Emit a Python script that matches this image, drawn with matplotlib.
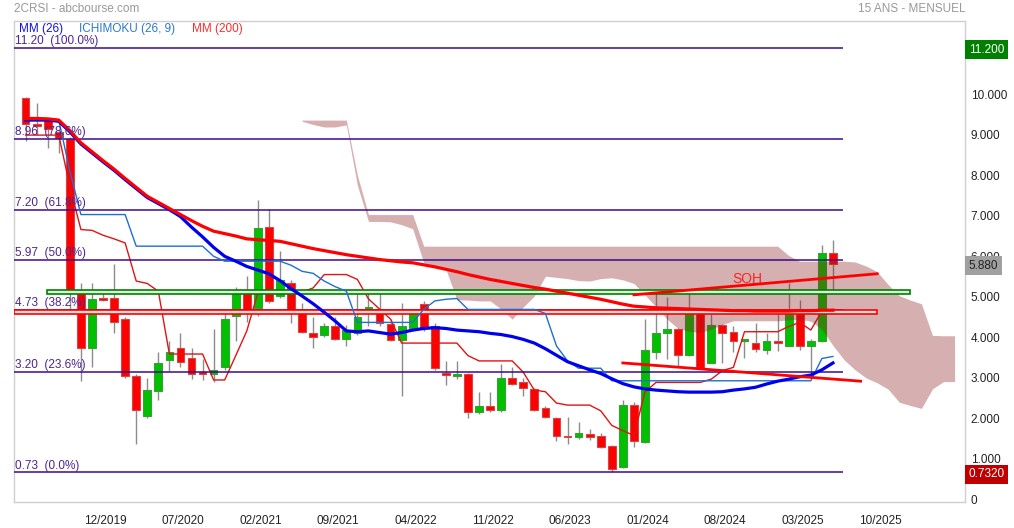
import numpy as np
import matplotlib.pyplot as plt
from matplotlib.patches import Rectangle
from matplotlib.transforms import ScaledTranslation

plt.rcParams['font.family'] = ['Liberation Sans', 'DejaVu Sans']

# monthly candles (index 0 = first month shown)
opens = [9.96, 9.32, 9.44, 9.13, 8.96, 5.16, 3.81, 5.04, 5.04, 4.52,
         3.10, 2.12, 2.75, 3.51, 3.79, 3.54, 3.18, 3.16, 3.32, 4.59,
         5.22, 4.79, 6.78, 5.08, 5.41, 4.69, 4.16, 4.11, 4.33, 4.03,
         4.16, 4.70, 4.75, 4.40, 4.00, 4.30, 4.89, 4.34, 3.18, 3.10,
         3.15, 2.21, 2.36, 2.28, 3.07, 2.95, 2.79, 2.31, 2.07, 1.64,
         1.60, 1.68, 1.63, 1.38, 0.86, 2.39, 1.49, 3.71, 4.18, 4.26,
         3.63, 4.71, 3.44, 4.37, 4.20, 3.96, 3.91, 3.75, 3.96, 3.85,
         4.69, 3.85, 3.98, 6.15]
highs = [9.98, 9.83, 9.46, 9.16, 9.01, 5.39, 5.39, 5.16, 5.86, 4.56,
         3.16, 3.06, 3.70, 3.97, 4.16, 3.79, 3.52, 4.26, 4.65, 5.31,
         5.57, 7.44, 7.23, 6.19, 5.48, 4.90, 4.57, 4.41, 4.56, 4.36,
         5.19, 5.17, 5.19, 4.51, 4.90, 4.76, 4.96, 4.41, 3.48, 3.48,
         3.18, 2.71, 2.71, 3.40, 3.32, 3.07, 2.81, 2.36, 2.09, 2.09,
         1.97, 1.79, 1.71, 1.41, 2.52, 2.46, 4.51, 5.16, 5.06, 4.28,
         5.12, 4.76, 4.63, 4.39, 4.33, 4.02, 4.41, 4.16, 4.63, 5.41,
         4.98, 4.01, 6.35, 6.45]
lows = [8.91, 9.06, 8.74, 8.61, 4.66, 2.99, 3.34, 4.96, 4.16, 3.06,
        1.44, 2.06, 2.52, 3.24, 3.33, 3.03, 3.01, 2.97, 3.26, 3.97,
        4.43, 4.59, 4.91, 5.04, 4.41, 4.16, 3.81, 4.08, 3.99, 3.84,
        4.11, 4.34, 4.34, 3.96, 2.62, 4.21, 4.21, 3.26, 2.89, 3.04,
        2.07, 2.16, 2.21, 2.21, 2.88, 2.62, 2.25, 2.06, 1.50, 1.42,
        1.56, 1.54, 1.34, 0.732, 0.84, 1.35, 1.46, 3.52, 3.53, 3.36,
        3.61, 3.28, 3.44, 3.44, 3.69, 3.55, 3.71, 3.66, 3.73, 3.85,
        3.75, 3.11, 3.94, 5.20]
closes = [9.33, 9.28, 9.21, 8.97, 5.16, 3.81, 5.00, 4.99, 4.44, 3.10,
          2.28, 2.77, 3.42, 3.69, 3.46, 3.16, 3.16, 3.25, 4.51, 5.16,
          4.74, 6.76, 4.96, 5.47, 4.69, 4.20, 4.08, 4.33, 4.03, 4.24,
          4.56, 4.80, 4.41, 4.00, 4.33, 4.70, 4.28, 3.30, 3.14, 3.15,
          2.21, 2.36, 2.28, 3.07, 2.90, 2.80, 2.28, 2.09, 1.63, 1.60,
          1.70, 1.60, 1.36, 0.81, 2.39, 1.50, 3.75, 4.16, 4.26, 3.63,
          4.71, 3.30, 4.37, 4.18, 3.96, 4.02, 3.77, 3.96, 3.92, 4.69,
          3.85, 3.96, 6.15, 5.88]

mm200 = [9.46, 9.46, 9.45, 9.42, 9.16, 8.86, 8.64, 8.42, 8.21, 7.98,
         7.76, 7.54, 7.39, 7.24, 7.09, 6.94, 6.80, 6.68, 6.62, 6.56,
         6.49, 6.47, 6.45, 6.43, 6.37, 6.31, 6.25, 6.20, 6.15, 6.10,
         6.06, 6.02, 5.98, 5.95, 5.92, 5.90, 5.85, 5.80, 5.74, 5.68,
         5.61, 5.55, 5.49, 5.44, 5.39, 5.34, 5.29, 5.25, 5.20, 5.15,
         5.10, 5.05, 5.00, 4.94, 4.88, 4.83, 4.81, 4.79, 4.78, 4.77,
         4.76, 4.75, 4.74, 4.73, 4.72, 4.72, 4.71, 4.71, 4.71, 4.71,
         4.72, 4.72, 4.73, 4.73]
mm26 = [9.42, 9.42, 9.42, 9.39, 9.13, 8.83, 8.61, 8.39, 8.18, 7.95,
        7.73, 7.51, 7.36, 7.21, 7.04, 6.78, 6.54, 6.28, 6.06, 5.94,
        5.81, 5.72, 5.63, 5.46, 5.26, 5.08, 4.89, 4.68, 4.46, 4.22,
        4.20, 4.22, 4.18, 4.14, 4.18, 4.24, 4.28, 4.30, 4.28, 4.24,
        4.22, 4.20, 4.16, 4.13, 4.08, 4.01, 3.92, 3.78, 3.62, 3.46,
        3.36, 3.26, 3.17, 3.04, 2.92, 2.84, 2.79, 2.76, 2.74, 2.72,
        2.71, 2.71, 2.71, 2.72, 2.76, 2.79, 2.83, 2.91, 2.98, 3.03,
        3.09, 3.13, 3.26, 3.43]
tenkan = [9.05, 9.05, 9.05, 9.05, 7.78, 6.72, 6.70, 6.58, 6.49, 6.39,
          5.45, 5.39, 5.20, 3.65, 3.65, 3.65, 3.65, 3.01, 3.01, 3.61,
          4.22, 5.16, 5.16, 5.16, 5.16, 5.18, 5.28, 5.61, 5.61, 5.61,
          5.49, 5.01, 4.76, 4.51, 3.92, 3.92, 3.92, 3.92, 3.92, 3.92,
          3.61, 3.48, 3.48, 3.48, 3.48, 3.20, 2.76, 2.72, 2.44, 2.39,
          2.39, 2.39, 2.25, 1.89, 1.76, 1.64, 2.71, 2.95, 2.95, 2.95,
          2.95, 2.95, 3.03, 3.24, 3.32, 4.20, 4.20, 4.20, 4.20, 4.33,
          4.43, 4.24, 4.71, 4.75]
kijun = [9.42, 9.42, 9.42, 9.42, 8.16, 7.09, 7.09, 7.09, 7.09, 7.09,
         6.31, 6.31, 6.31, 6.31, 6.31, 6.31, 6.31, 6.06, 5.94, 5.94,
         5.94, 5.94, 5.94, 5.94, 5.84, 5.69, 5.64, 5.45, 5.31, 5.20,
         4.43, 4.43, 4.43, 4.43, 4.43, 4.43, 4.75, 4.96, 5.00, 5.02,
         4.75, 4.75, 4.75, 4.75, 4.75, 4.75, 4.75, 4.65, 3.85, 3.48,
         3.30, 3.30, 3.30, 2.99, 2.99, 2.99, 2.99, 2.99, 2.99, 2.99,
         2.99, 2.99, 2.99, 2.99, 2.99, 2.99, 2.99, 2.99, 2.99, 2.99,
         2.99, 2.99, 3.54, 3.59]

# ichimoku cloud, starting at index 25
cloud_start = 25
cloud_top = [9.42, 9.42, 9.42, 9.42, 9.42, 8.06, 7.09, 7.09, 7.09, 7.09,
             7.09, 6.31, 6.31, 6.31, 6.31, 6.31, 6.31, 6.31, 6.31, 6.31,
             6.31, 6.31, 6.31, 6.31, 6.31, 6.31, 6.31, 6.31, 6.31, 6.31,
             6.31, 6.31, 6.31, 6.31, 6.31, 6.31, 6.31, 6.31, 6.31, 6.31,
             6.31, 6.31, 6.31, 6.31, 6.08, 5.94, 5.94, 5.94, 5.94, 5.94,
             5.92, 5.82, 5.68, 5.36, 5.09, 4.98, 4.89, 4.11, 4.10, 4.10]
cloud_bot = [9.39, 9.31, 9.25, 9.25, 9.30, 7.81, 6.92, 6.92, 6.91, 6.84,
             6.74, 5.90, 5.83, 5.74, 4.99, 4.98, 4.96, 4.96, 4.76, 4.51,
             4.81, 5.08, 5.57, 5.54, 5.51, 5.46, 5.45, 5.51, 5.53, 5.48,
             5.39, 5.11, 4.81, 4.51, 4.28, 4.21, 4.18, 4.26, 4.38, 4.47,
             4.47, 4.47, 4.47, 4.47, 4.49, 4.51, 4.46, 4.26, 3.86, 3.51,
             3.26, 3.06, 2.94, 2.78, 2.46, 2.38, 2.31, 2.79, 2.97, 2.97]

fib_values = [11.20, 8.96, 7.20, 5.97, 4.73, 3.20, 0.73]
fib_labels = ['11.20  (100.0%)', '8.96  (78.6%)', '7.20  (61.8%)', '5.97  (50.0%)',
              '4.73  (38.2%)', '3.20  (23.6%)', '0.73  (0.0%)']
fib_end = 73.9

# support / resistance zones (x0, x1, y0, y1)
green_zone = [1.96, 80.0, 5.14, 5.23]
red_zone = [-1.05, 77.0, 4.625, 4.73]

# trend lines
soh_x = [55, 77]
soh_y = [5.11, 5.63]
low_x = [54, 75.5]
low_y = [3.43, 2.98]

date_labels = ['12/2019', '07/2020', '02/2021', '09/2021', '04/2022', '11/2022',
               '06/2023', '01/2024', '08/2024', '03/2025', '10/2025']
first_label_pos = 7.25

last_boxes = [(11.2, '11.200', '#008000', 'white'),
              (5.88, '5.880', '#a0a0a0', '#222222'),
              (0.732, '0.7320', '#c00000', 'white')]

W, H = 1014, 528
fig = plt.figure(figsize=(W / 100, H / 100), dpi=100)
ax = fig.add_axes([14 / W, 1 - 502 / H, (965 - 14) / W, (502 - 21) / H])

# candles
for i in range(len(opens)):
    o, h, l, c = opens[i], highs[i], lows[i], closes[i]
    if c >= o:
        fc, ec = '#00c000', '#3c9c3c'
    else:
        fc, ec = '#ff0000', '#d04848'
    ax.vlines(i, l, h, color='#8c8c8c', lw=1, zorder=2)
    ax.add_patch(Rectangle((i - 0.35, min(o, c)), 0.7, max(abs(c - o), 0.04),
                           facecolor=fc, edgecolor=ec, lw=0.8, zorder=2.2))

# tenkan under the cloud
x = np.arange(len(opens))
ax.plot(x, tenkan, color='#e01414', lw=1, zorder=2.6)

# cloud
cx = np.arange(cloud_start, cloud_start + len(cloud_top))
ax.fill_between(cx, cloud_bot, cloud_top, color='#8c1e1e', alpha=0.35, lw=0, zorder=3)

# fibonacci levels
for v, lab in zip(fib_values, fib_labels):
    ax.hlines(v, -1.05, fib_end, color='#3c0a8c', lw=1.1, zorder=3.5)
    ax.text(-0.95, v + 0.02, lab, color='#4e2394', fontsize=8.5, va='bottom', zorder=6)

# zones
ax.add_patch(Rectangle((green_zone[0], green_zone[2]), green_zone[1] - green_zone[0],
                       green_zone[3] - green_zone[2], facecolor='#dcf2dc',
                       edgecolor='#008000', lw=1.2, zorder=3.6))
ax.add_patch(Rectangle((red_zone[0], red_zone[2]), red_zone[1] - red_zone[0],
                       red_zone[3] - red_zone[2], facecolor='#fbdede',
                       edgecolor='#ff0000', lw=1.2, zorder=3.6))

ax.plot(x, kijun, color='#1e6fd4', lw=1, zorder=4)
ax.plot(x, mm26, color='#0000f0', lw=2.3, zorder=4.8)
ax.plot(x, mm200, color='#ff0000', lw=2.3, zorder=5)

ax.plot(soh_x, soh_y, color='#ff0000', lw=2, zorder=5)
ax.plot(low_x, low_y, color='#ff0000', lw=2, zorder=5)
ax.text(65.3, 5.49, 'SOH', color='#ff2020', fontsize=10, ha='center', va='center', zorder=6)

ax.set_xlim(-1.05, 84.94)
ax.set_ylim(0.037, 11.864)

ax.set_xticks([first_label_pos + 7 * k for k in range(len(date_labels))])
ax.set_xticklabels(date_labels)
ax.yaxis.tick_right()
ax.set_yticks(range(0, 11))
ax.set_yticklabels(['0'] + ['%d.000' % v for v in range(1, 11)])
ax.tick_params(axis='x', length=0, pad=9, labelsize=8.5, labelcolor='#222222')
ax.tick_params(axis='y', length=0, pad=4, labelsize=8.5, labelcolor='#222222')
# price labels sit slightly above their level
up = ScaledTranslation(0, 2.5 / 100, fig.dpi_scale_trans)
for lab in ax.get_yticklabels():
    lab.set_transform(lab.get_transform() + up)
for s in ax.spines.values():
    s.set_color('#d0d0d0')
    s.set_linewidth(1)

for v, txt, bg, fg in last_boxes:
    ax.annotate(txt, xy=(1.004, v - 0.05), xycoords=('axes fraction', 'data'),
                color=fg, fontsize=8.5, va='center', ha='left', annotation_clip=False,
                bbox=dict(boxstyle='square,pad=0.3', fc=bg, ec='none'), zorder=10)

# header and legend
fig.text(14 / W, 1 - 9 / H, '2CRSI - abcbourse.com', color='#999999', fontsize=8.5, va='center')
fig.text(965 / W, 1 - 9 / H, '15 ANS - MENSUEL', color='#999999', fontsize=8.5,
         va='center', ha='right')
fig.text(19 / W, 1 - 29 / H, 'MM (26)', color='#1010ee', fontsize=8.5, va='center')
fig.text(79 / W, 1 - 29 / H, 'ICHIMOKU (26, 9)', color='#2a78d0', fontsize=8.5, va='center')
fig.text(192 / W, 1 - 29 / H, 'MM (200)', color='#ff2a2a', fontsize=8.5, va='center')

fig.savefig('out.png', dpi=100)
